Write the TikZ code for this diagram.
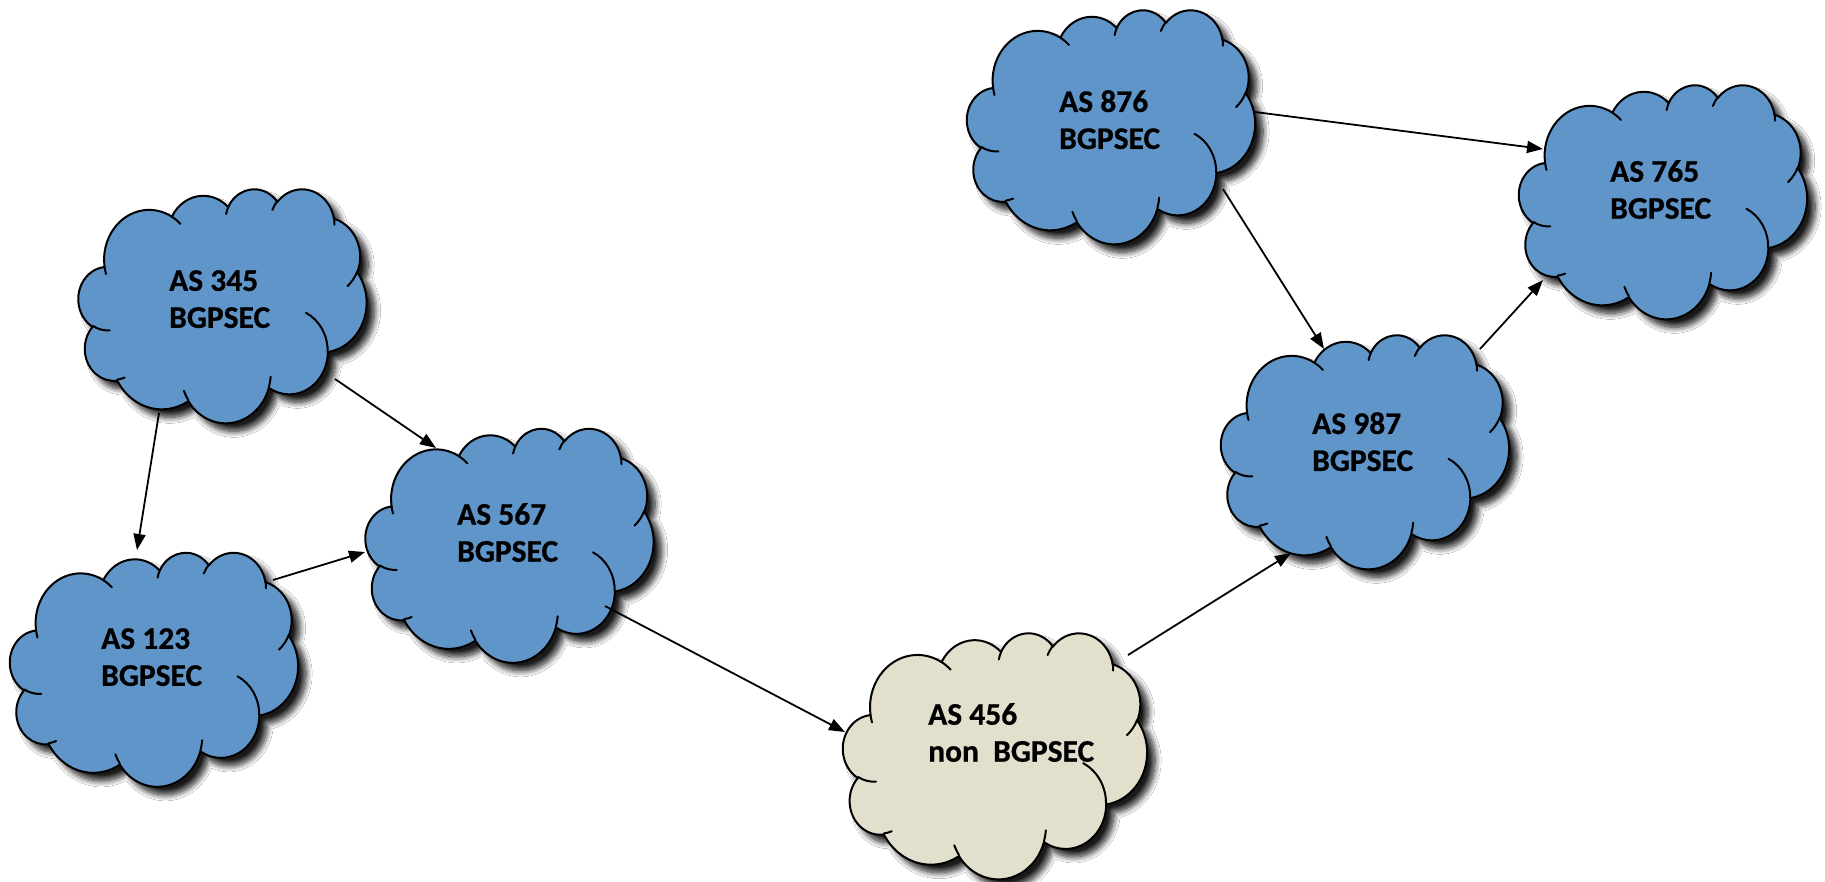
\documentclass[tikz,border=0pt]{standalone}
\usepackage{fontspec}
\setmainfont{Carlito}[BoldFeatures={FakeBold=0.6}]
\usetikzlibrary{arrows.meta,calc,shadows.blur}
\definecolor{cblue}{HTML}{5F95C9}
\definecolor{cbeige}{HTML}{E2DFCC}
% arc of an ellipse given by OOXML "visual" start angle and sweep
\newcommand\oa[4]{arc[x radius=#1, y radius=#2, start angle={atan2(#1*sin(#3),#2*cos(#3))}, delta angle={mod(atan2(#1*sin(#3+#4),#2*cos(#3+#4))-atan2(#1*sin(#3),#2*cos(#3))+720,360)}]}
\tikzset{
  cloudbox/.style={draw=none, inner sep=0pt, outer sep=0pt, rectangle},
  cloudfill/.style={draw=black, line width=2pt, line join=round,
    blur shadow={shadow xshift=8pt, shadow yshift=-8pt, shadow blur radius=6pt, shadow blur steps=10, shadow opacity=90}},
  cloudline/.style={draw=black, line width=2pt, line cap=round},
  lbl/.style={font=\bfseries\fontsize{31.5}{37}\selectfont, align=left, inner sep=0pt, anchor=north west, text=black},
  arr/.style={line width=1.8pt, -{Triangle[length=16pt,width=12pt]}},
}
\newcommand\ascloud[6]{%
  \node[cloudbox, minimum width=#4pt, minimum height=#5pt] (#1) at (#2,#3) {};
  \begin{scope}[shift={(#1.north west)}, x=#4pt/432, y=-#5pt/432]
    \path[cloudfill, fill=#6] (39.00,143.70)
      \oa{67.53}{91.90}{-190.4875}{123.7805}
      \oa{53.33}{72.67}{-144.1024}{89.9452}
      \oa{43.65}{59.45}{-145.8079}{99.7230}
      \oa{48.57}{65.95}{-130.9861}{117.2417}
      \oa{53.33}{72.73}{-78.7089}{109.0269}
      \oa{67.75}{92.20}{-46.2673}{130.2690}
      \oa{57.85}{78.67}{0.6250}{114.0333}
      \oa{67.52}{92.15}{22.4516}{115.1726}
      \oa{77.20}{105.43}{66.2426}{75.7110}
      \oa{43.60}{59.18}{-274.9421}{146.7356}
      \oa{43.45}{59.45}{-246.8285}{152.5189}
      -- cycle;
    \path[cloudline]
      (46.93,261.77) \oa{43.45}{59.45}{86.7420}{26.4295}
      (69.28,348.99) \oa{43.60}{59.18}{73.6105}{11.4475}
      (164.78,390.90) \oa{67.52}{92.15}{137.6242}{14.0811}
      (288.27,347.51) \oa{67.52}{92.15}{6.4533}{15.9984}
      (341.29,229.54) \oa{57.85}{78.67}{-70.2924}{70.9174}
      (417.98,153.54) \oa{53.33}{72.73}{30.3180}{27.7515}
      (383.24,54.26) \oa{48.57}{65.95}{-13.7443}{14.8589}
      (290.78,39.52) \oa{48.57}{65.95}{-149.1815}{18.1954}
      (221.41,47.20) \oa{43.65}{59.45}{-163.4943}{17.6864}
      (140.00,51.92) \oa{67.53}{91.90}{-66.7070}{12.3194}
      (41.27,157.89) \oa{67.53}{91.90}{157.6544}{11.8582};
  \end{scope}}
\begin{document}
\begin{tikzpicture}[x=1pt, y=-1pt]
  \useasboundingbox[fill=white] (0,0) rectangle (1825,881);
  % clouds
  \ascloud{n345}{222.5}{305.5}{288}{234}{cblue}
  \ascloud{n567}{509.5}{545}{288}{234}{cblue}
  \ascloud{n123}{154}{669}{288}{234}{cblue}
  \ascloud{n456}{995}{755.5}{304}{246}{cbeige}
  \ascloud{n987}{1365}{451.5}{288}{234}{cblue}
  \ascloud{n876}{1111}{126.5}{288}{234}{cblue}
  \ascloud{n765}{1663}{201.5}{288}{234}{cblue}
  % labels
  \node[lbl] (l345) at (169,270) {AS 345\\BGPSEC};
  \node[lbl] (l567) at (457,503) {AS 567\\BGPSEC};
  \node[lbl] (l123) at (101,628) {AS 123\\BGPSEC};
  \node[lbl] (l456) at (928,703) {AS 456\\non\ \ BGPSEC};
  \node[lbl] (l987) at (1312,412) {AS 987\\BGPSEC};
  \node[lbl] (l876) at (1059,90) {AS 876\\BGPSEC};
  \node[lbl] (l765) at (1610,160) {AS 765\\BGPSEC};
  % connectors
  \draw[arr] ($(n345)+(-63.5,107.5)$) -- ($(n123)+(-17,-119)$);
  \draw[arr] ($(n345)+(112.5,73.5)$) -- ($(n567)+(-73.5,-97)$);
  \draw[arr] ($(n123)+(119,-89)$) -- ($(n567)+(-144.5,7)$);
  \draw[arr] ($(n567)+(95.5,61)$) -- ($(n456)+(-150,-23.5)$);
  \draw[arr] ($(n456)+(133,-100.5)$) -- ($(n987)+(-74,101.5)$);
  \draw[arr] ($(n876)+(144,-14.5)$) -- ($(n765)+(-120,-52.5)$);
  \draw[arr] ($(n876)+(112,62.5)$) -- ($(n987)+(-41,-102.5)$);
  \draw[arr] ($(n987)+(115,-102.5)$) -- ($(n765)+(-120,78.5)$);
\end{tikzpicture}
\end{document}
